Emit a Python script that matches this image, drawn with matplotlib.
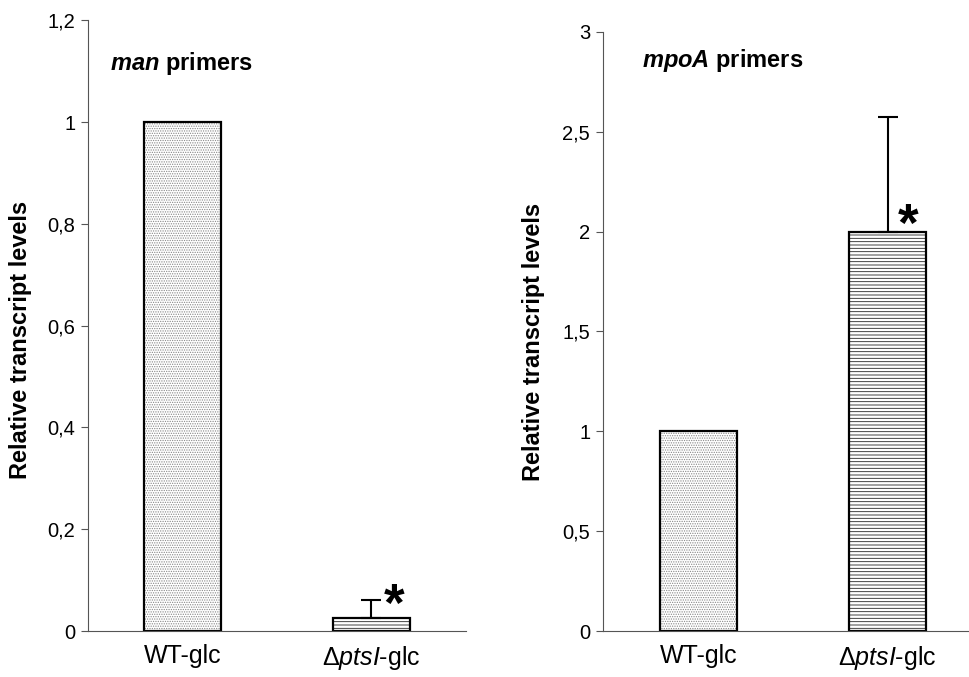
import numpy as np
import matplotlib.pyplot as plt
from matplotlib.ticker import FuncFormatter

plt.rcParams['font.family'] = ['Liberation Sans', 'DejaVu Sans']
plt.rcParams['mathtext.fontset'] = 'custom'
plt.rcParams['mathtext.rm'] = 'Liberation Sans'
plt.rcParams['mathtext.it'] = 'Liberation Sans:italic'
plt.rcParams['mathtext.bf'] = 'Liberation Sans:bold'
plt.rcParams['mathtext.bfit'] = 'Liberation Sans:italic:bold'
plt.rcParams['hatch.linewidth'] = 0.6

# data
groups = ['WT-glc', r'Δ$\mathit{ptsI}$-glc']
man_vals = [1.0, 0.025]
man_err = [0.0, 0.035]
mpo_vals = [1.0, 2.0]
mpo_err = [0.0, 0.575]

comma = FuncFormatter(lambda v, p: ('%g' % v).replace('.', ','))

fig = plt.figure(figsize=(9.69, 6.77), dpi=100)
ax1 = fig.add_axes([0.0908, 0.0679, 0.390, 0.902])
ax2 = fig.add_axes([0.622, 0.0679, 0.378, 0.885])

def draw(ax, vals, err, ymax, step, xlim, title, tpos, lpos):
    x = np.arange(len(vals))
    w = 0.41
    ax.bar(x[0], vals[0], w, color='white', edgecolor='#888888', hatch='.......', linewidth=0)
    ax.bar(x[1], vals[1], w, color='white', edgecolor='#222222', hatch='-----', linewidth=0)
    ax.bar(x, vals, w, fill=False, edgecolor='black', linewidth=1.6)
    for xi, v, e in zip(x, vals, err):
        if e > 0:
            ax.errorbar(xi, v, yerr=[[0], [e]], color='black', capsize=7, elinewidth=1.5, capthick=1.5)
    ax.set_ylim(0, ymax)
    ax.set_xlim(*xlim)
    ax.set_yticks(np.arange(0, ymax + step / 2, step))
    ax.yaxis.set_major_formatter(comma)
    ax.set_xticks(x)
    ax.set_xticklabels(groups, fontsize=18)
    ax.tick_params(axis='x', length=0, pad=9)
    ax.tick_params(axis='y', direction='out', length=5, labelsize=14.5, color='#555555', pad=4)
    for s in ['top', 'right']:
        ax.spines[s].set_visible(False)
    for s in ['left', 'bottom']:
        ax.spines[s].set_color('#555555')
    ax.set_ylabel('Relative transcript levels', fontsize=17, fontweight='bold')
    ax.yaxis.set_label_coords(*lpos)
    ax.text(tpos[0], tpos[1], title, transform=ax.transAxes, fontsize=17,
            fontweight='bold', va='center')

draw(ax1, man_vals, man_err, 1.2, 0.2, (-0.5, 1.5), r'$\mathbfit{man}$ primers',
     (0.058, 0.93), (-0.148, 0.476))
draw(ax2, mpo_vals, mpo_err, 3.0, 0.5, (-0.508, 1.43), r'$\mathbfit{mpoA}$ primers',
     (0.107, 0.952), (-0.158, 0.482))

ax1.text(1.12, 0.047, '*', fontsize=38, fontweight='bold', ha='center', va='center')
ax2.text(1.106, 2.023, '*', fontsize=38, fontweight='bold', ha='center', va='center')

fig.savefig('out.png', dpi=100)
